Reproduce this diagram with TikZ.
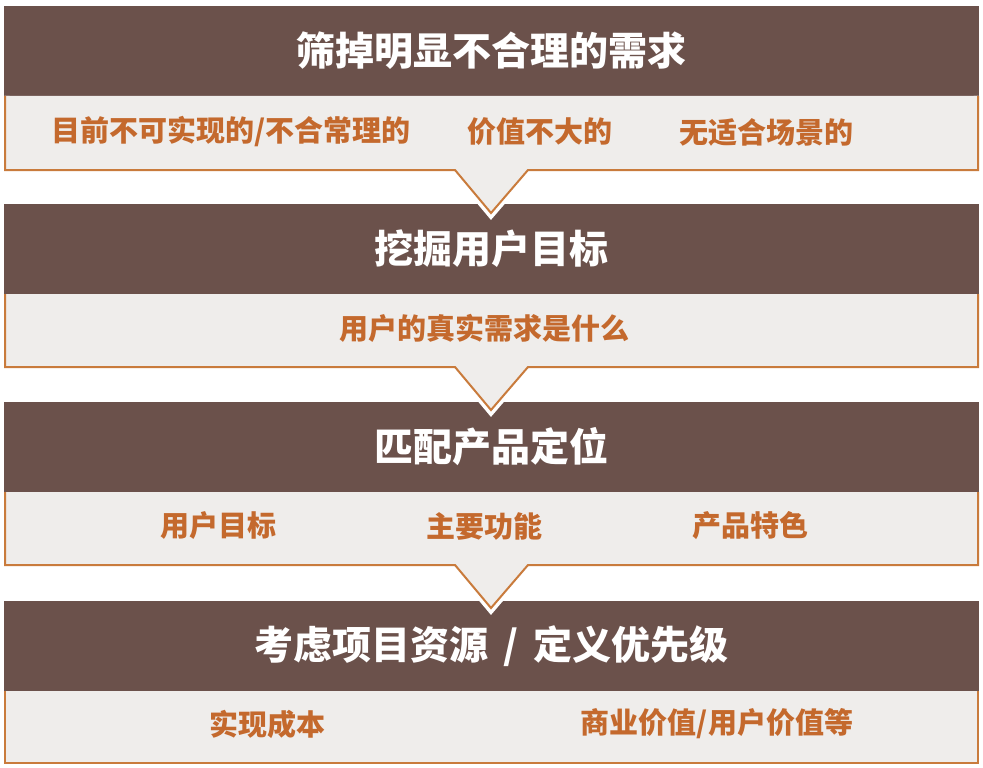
\documentclass[tikz,border=0pt]{standalone}
\usepackage{fontspec}
\newfontfamily\cjk{Noto Sans CJK SC}
\usetikzlibrary{positioning}
\definecolor{headbrown}{HTML}{6B514B}
\definecolor{panelgray}{HTML}{EFEDEB}
\definecolor{lineorange}{HTML}{C97B3C}
\definecolor{textorange}{HTML}{C4692D}
\tikzset{
    header/.style = {rectangle, fill=headbrown, minimum width=975pt, minimum height=90pt, inner sep=0pt, text=white, font=\cjk\bfseries\fontsize{39}{39}\selectfont},
    panel/.style = {fill=panelgray, draw=lineorange, line width=2pt, line join=miter, preaction={draw=white, line width=9pt}},
    item/.style = {inner sep=0pt, text=textorange, font=\cjk\bfseries\fontsize{29}{29}\selectfont}
}

\begin{document}
\begin{tikzpicture}[x=1pt,y=-1pt]
\useasboundingbox (0,0) rectangle (983,768);
\node[header] at (491.5,51) (h1) {筛掉明显不合理的需求};
\node[header] at (491.5,249) (h2) {挖掘用户目标};
\node[header] at (491.5,447) (h3) {匹配产品定位};
\node[header] at (491.5,646) (h4) {考虑项目资源\hspace{15pt}/\hspace{15pt}定义优先级};
%
\draw[panel] (5,96) -- (5,170) -- (455,170) -- (491,213) -- (528,170) -- (978,170) -- (978,96);
\draw[panel] (5,294) -- (5,367) -- (455,367) -- (491,410) -- (528,367) -- (978,367) -- (978,294);
\draw[panel] (5,492) -- (5,565) -- (455,565) -- (491,608) -- (528,565) -- (978,565) -- (978,492);
\draw[panel] (5,691) -- (5,763) -- (978,763) -- (978,691);
%
\node[item] at (231,132) (a1) {目前不可实现的/不合常理的};
\node[item] at (540,132) (a2) {价值不大的};
\node[item] at (766,132) (a3) {无适合场景的};
\node[item] at (484.5,328) (b1) {用户的真实需求是什么};
\node[item] at (218,526) (c1) {用户目标};
\node[item] at (484,526) (c2) {主要功能};
\node[item] at (750,526) (c3) {产品特色};
\node[item] at (267,724) (d1) {实现成本};
\node[item] at (717,724) (d2) {商业价值/用户价值等};
\end{tikzpicture}
\end{document}
